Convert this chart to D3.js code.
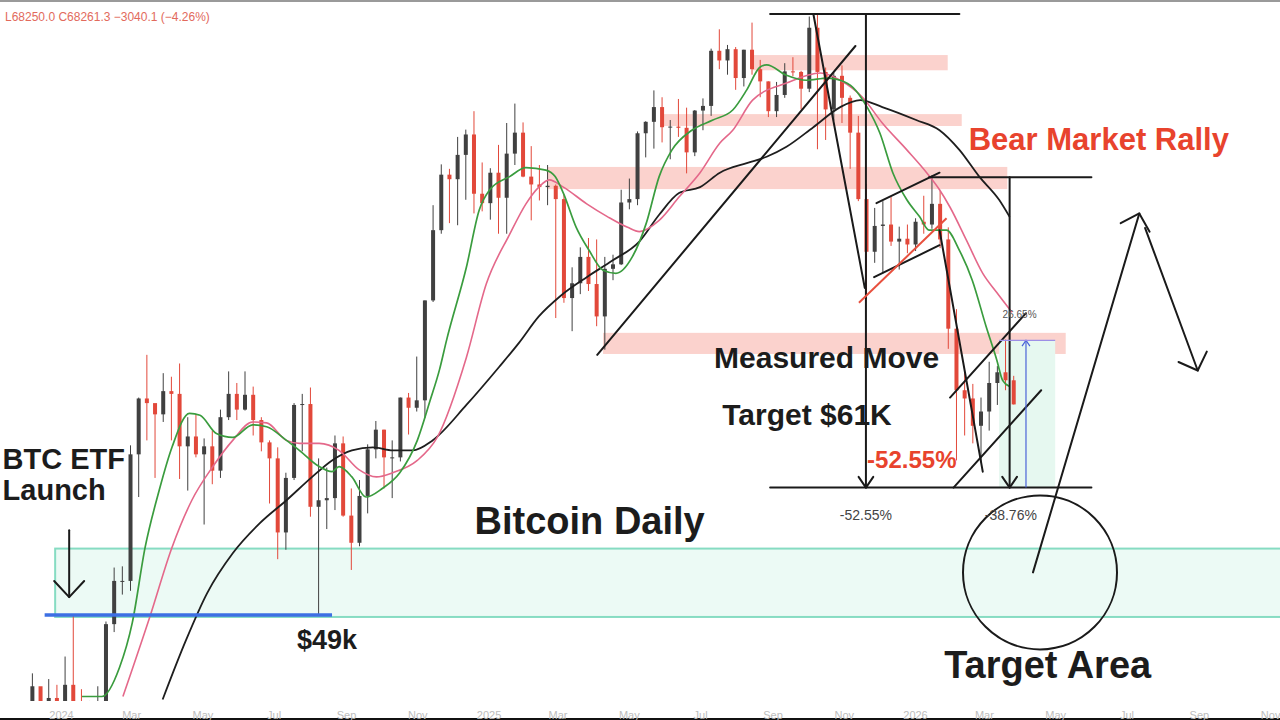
<!DOCTYPE html>
<html>
<head>
<meta charset="utf-8">
<title>Bitcoin Daily</title>
<script src="https://cdn.jsdelivr.net/npm/d3@7"></script>
<style>
  body { margin: 0; background: #fff; }
  svg { display: block; font-family: "Liberation Sans", Arial, sans-serif; }
  .axis text { fill: #bdbdbd; font-size: 11px; }
  .note { font-weight: bold; fill: #1c1c1c; }
  .etf { font-size: 29px; }
  .level { font-size: 27px; }
  .title { font-size: 38px; }
  .mm { font-size: 30px; }
  .target { font-size: 38px; }
  .rally { font-size: 31px; fill: #e8432d; }
  .drop { font-size: 24px; fill: #e8432d; }
  .pct { font-size: 14px; font-weight: normal; fill: #444; text-anchor: middle; }
  .tiny { font-size: 10px; font-weight: normal; fill: #555; }
  .quote { font-size: 12px; fill: #e26a5c; }
</style>
</head>
<body>
<svg id="chart"></svg>
<script>
// weekly BTC candles, USD thousands, weeks start on Monday
var firstWeek = "2023-12-04",
    firstOpen = 39.97;

var highs = [
  44.7, 43.4, 44.3, 43.9,                 // Dec 2023
  45.9, 49.0, 43.6, 42.8, 43.8,           // Jan 2024
  48.5, 52.8, 52.9, 64.0,                 // Feb
  69.0, 73.8, 68.1, 71.7,                 // Mar
  71.3, 72.8, 66.9, 67.2, 64.7,           // Apr
  65.5, 67.7, 71.9, 70.6,                 // May
  71.9, 70.2, 66.9, 64.5,                 // Jun
  63.8, 61.3, 68.4, 69.4, 70.1,           // Jul
  62.7, 61.8, 65.0, 64.9,                 // Aug
  59.8, 60.6, 64.1, 66.5, 65.6,           // Sep
  64.5, 69.0, 69.5, 73.6,                 // Oct
  80.4, 93.4, 99.6, 98.9,                 // Nov
  104.0, 105.2, 108.3, 99.9, 99.0,        // Dec
  102.7, 106.3, 109.6, 106.4,             // Jan 2025
  102.5, 99.5, 99.5, 96.5,                // Feb
  95.0, 84.7, 87.4, 88.7, 88.5,           // Mar
  86.1, 86.4, 95.7, 97.4,                 // Apr
  104.9, 106.6, 111.9, 110.7,             // May
  106.8, 110.4, 108.9, 108.5, 110.5,      // Jun
  119.5, 123.2, 120.2, 119.8,             // Jul
  119.3, 124.5, 117.4, 113.5,             // Aug
  113.4, 116.8, 117.9, 115.4, 125.7,      // Sep
  126.2, 116.0, 115.0, 116.4,             // Oct
  111.0, 107.5, 96.6, 93.0,               // Nov
  94.0, 94.6, 90.3, 90.6, 91.5,           // Dec
  94.8, 97.9, 95.5, 90.2,                 // Jan 2026
  79.3, 71.8, 70.5, 69.0,                 // Feb
  73.0, 72.5, 75.6, 71.4                  // Mar
];
var lows = [
  39.5, 40.2, 40.5, 41.5,
  40.7, 41.5, 40.3, 38.5, 41.9,
  42.3, 47.7, 50.6, 50.9,
  59.0, 64.5, 60.8, 66.4,
  64.5, 60.7, 59.6, 62.8, 56.5,
  60.2, 60.8, 66.6, 66.6,
  67.6, 65.0, 63.4, 58.4,
  53.5, 54.3, 60.6, 63.4, 57.2,
  49.0, 56.1, 57.8, 57.2,
  52.6, 54.6, 57.5, 62.7, 59.8,
  58.9, 62.4, 65.1, 67.5,
  66.8, 80.2, 89.3, 90.8,
  90.5, 94.2, 92.2, 92.5, 91.3,
  89.3, 89.3, 99.5, 97.6,
  91.2, 94.1, 93.4, 78.2,
  80.1, 76.6, 81.2, 81.6, 77.2,
  74.4, 83.0, 85.0, 92.8,
  93.4, 100.7, 102.1, 103.1,
  100.4, 104.0, 98.2, 100.9, 105.1,
  107.5, 115.7, 114.7, 112.0,
  112.6, 114.7, 110.7, 107.3,
  107.3, 110.6, 114.4, 108.6, 111.6,
  102.0, 103.5, 106.7, 106.3,
  98.9, 94.0, 80.6, 85.3,
  83.9, 87.6, 84.4, 86.6, 86.9,
  89.3, 90.0, 87.3, 74.5,
  62.5, 65.0, 64.2, 62.3,
  65.5, 68.2, 69.8, 68.25
];
var closes = [
  43.8, 41.4, 43.0, 42.3,
  43.9, 41.7, 41.6, 42.0, 42.6,
  48.3, 51.7, 51.7, 63.1,
  68.9, 68.4, 67.2, 69.7,
  69.4, 63.9, 64.9, 63.1, 63.9,
  61.5, 66.9, 69.4, 67.7,
  69.3, 66.6, 64.3, 62.7,
  55.8, 60.8, 68.2, 68.3, 58.1,
  58.7, 58.9, 64.2, 57.3,
  54.9, 59.1, 63.6, 65.6, 62.8,
  62.8, 69.0, 67.9, 68.7,
  80.4, 89.8, 98.0, 97.3,
  101.1, 104.4, 95.1, 93.7, 98.3,
  94.5, 101.3, 104.7, 97.7,
  96.5, 96.1, 96.3, 94.3,
  80.7, 82.6, 86.1, 82.5, 78.4,
  84.5, 85.1, 93.8, 94.3,
  104.6, 106.5, 109.0, 105.6,
  105.7, 105.5, 101.5, 108.4, 109.2,
  119.1, 117.3, 119.4, 114.1,
  119.3, 115.7, 113.5, 108.3,
  111.1, 115.3, 115.2, 112.2, 123.5,
  115.2, 108.6, 114.5, 110.6,
  104.7, 94.3, 86.8, 90.4,
  90.6, 88.2, 88.6, 87.8, 91.0,
  90.6, 93.6, 88.5, 76.9,
  69.8, 68.9, 66.0, 67.5,
  70.6, 71.8, 70.9, 68.26
];

// moving averages: [date, price]
var fastMA = [
  ["2024-01-19", 43.1], ["2024-02-05", 43.1], ["2024-02-20", 45.1], ["2024-03-02", 48.4],
  ["2024-03-13", 54.5], ["2024-03-25", 59.6], ["2024-04-05", 63.8], ["2024-04-20", 67.3],
  ["2024-04-29", 67.1], ["2024-05-13", 65.2], ["2024-05-27", 64.8], ["2024-06-13", 66.1],
  ["2024-06-25", 65.9], ["2024-07-12", 64.5], ["2024-07-23", 63.5], ["2024-08-09", 61.9],
  ["2024-08-20", 61.4], ["2024-08-26", 61.9], ["2024-09-06", 60.9], ["2024-09-18", 59.0],
  ["2024-10-02", 59.8], ["2024-10-17", 61.3], ["2024-11-01", 64.5], ["2024-11-12", 68.7],
  ["2024-11-20", 72.1], ["2024-11-26", 75.5], ["2024-12-13", 84.7], ["2024-12-24", 92.7],
  ["2025-01-02", 95.7], ["2025-01-19", 97.7], ["2025-02-02", 99.1], ["2025-02-19", 98.7],
  ["2025-02-27", 97.7], ["2025-03-06", 95.2], ["2025-03-17", 90.2], ["2025-03-28", 87.0],
  ["2025-04-09", 84.3], ["2025-04-20", 83.9], ["2025-05-04", 86.1], ["2025-05-16", 90.8],
  ["2025-05-27", 97.7], ["2025-06-07", 101.9], ["2025-06-24", 105.1], ["2025-07-12", 106.8],
  ["2025-07-29", 108.5], ["2025-08-10", 112.0], ["2025-08-21", 116.0], ["2025-08-27", 116.5],
  ["2025-09-13", 114.6], ["2025-09-30", 113.7], ["2025-10-18", 114.1], ["2025-10-29", 113.7],
  ["2025-11-09", 112.4], ["2025-11-21", 109.0], ["2025-12-02", 104.6], ["2025-12-13", 98.3],
  ["2025-12-25", 94.2], ["2026-01-05", 91.7], ["2026-01-13", 89.8], ["2026-01-28", 89.8],
  ["2026-02-08", 87.0], ["2026-02-19", 83.0], ["2026-03-03", 77.1], ["2026-03-12", 73.2],
  ["2026-03-17", 70.9], ["2026-03-23", 70.2]
];
var midMA = [
  ["2024-02-23", 43.1], ["2024-03-17", 48.85], ["2024-04-05", 54.5], ["2024-04-22", 58.7],
  ["2024-05-10", 61.9], ["2024-05-27", 64.5], ["2024-06-13", 66.4], ["2024-06-25", 66.3],
  ["2024-07-12", 64.5], ["2024-07-23", 64.2], ["2024-08-09", 64.2], ["2024-08-26", 63.5],
  ["2024-09-12", 61.6], ["2024-09-27", 60.9], ["2024-10-11", 61.3], ["2024-11-01", 62.5],
  ["2024-11-18", 64.8], ["2024-12-13", 73.5], ["2024-12-30", 82.5], ["2025-01-19", 89.2],
  ["2025-02-02", 93.6], ["2025-02-13", 96.1], ["2025-02-22", 97.2], ["2025-03-06", 96.1],
  ["2025-03-26", 93.6], ["2025-04-13", 91.7], ["2025-04-30", 90.2], ["2025-05-10", 89.6],
  ["2025-05-27", 91.2], ["2025-06-13", 94.6], ["2025-07-01", 98.3], ["2025-07-18", 103.0],
  ["2025-07-29", 105.1], ["2025-08-15", 110.2], ["2025-09-13", 113.2], ["2025-10-12", 115.0],
  ["2025-10-29", 113.7], ["2025-11-17", 110.7], ["2025-12-04", 106.3], ["2025-12-25", 101.9],
  ["2026-01-11", 98.3], ["2026-01-22", 95.7], ["2026-01-31", 93.1], ["2026-02-14", 88.4],
  ["2026-02-28", 83.9], ["2026-03-12", 81.4], ["2026-03-25", 78.9]
];
var slowMA = [
  ["2024-03-28", 42.9], ["2024-04-17", 47.1], ["2024-05-05", 50.7], ["2024-05-27", 54.0],
  ["2024-06-19", 56.6], ["2024-07-12", 58.7], ["2024-08-03", 60.9], ["2024-08-20", 62.5],
  ["2024-09-06", 63.5], ["2024-09-24", 63.8], ["2024-10-11", 63.5], ["2024-10-28", 63.5],
  ["2024-11-14", 64.5], ["2024-12-13", 68.2], ["2025-01-10", 72.4], ["2025-01-27", 75.2],
  ["2025-02-13", 78.4], ["2025-03-03", 80.9], ["2025-03-26", 83.4], ["2025-04-17", 85.6],
  ["2025-05-10", 88.2], ["2025-05-27", 92.0], ["2025-06-13", 95.2], ["2025-07-01", 96.1],
  ["2025-07-18", 98.3], ["2025-08-10", 99.8], ["2025-08-27", 100.8], ["2025-09-13", 102.4],
  ["2025-10-06", 105.6], ["2025-10-29", 109.0], ["2025-11-15", 110.2], ["2025-12-04", 109.0],
  ["2026-01-02", 106.8], ["2026-01-22", 105.1], ["2026-02-08", 101.9], ["2026-02-25", 97.7],
  ["2026-03-14", 94.2], ["2026-03-23", 91.7]
];

// shaded price zones
var resistance = [
  { from: "2025-08-15", to: "2026-01-29", hi: 118.3, lo: 115.5 },
  { from: "2025-05-29", to: "2026-02-10", hi: 107.8, lo: 105.8 },
  { from: "2025-02-20", to: "2026-03-21", hi: 99.2, lo: 95.8 },
  { from: "2025-04-09", to: "2026-05-10", hi: 76.4, lo: 73.9 }
];
var supportZone = { from: "2023-12-27", to: "2027-01-31", hi: 54.4, lo: 48.85 };
var supportLine = { from: "2023-12-18", to: "2024-08-20", price: 49 };

// measured move levels
var athPrice = 126.2, rallyHigh = 97.6, mmTarget = 59.88, bounceHigh = 75.5;

// drawn trend lines
var trendLines = [
  [["2025-04-04", 73.8], ["2025-11-11", 120.0]],
  [["2025-10-06", 126.2], ["2025-11-19", 82.0]],
  [["2025-11-29", 93.7], ["2026-01-22", 98.3]],
  [["2025-11-27", 83.4], ["2026-01-22", 87.7]],
  [["2026-01-22", 89.8], ["2026-02-28", 61.4]],
  [["2026-01-31", 69.0], ["2026-04-06", 78.8]],
  [["2026-02-03", 59.88], ["2026-04-19", 69.8]]
];
var flagSupport = [["2025-11-14", 80.1], ["2026-01-28", 91.5]];

// projected path
var projUp = [["2026-04-12", 52.4], ["2026-07-12", 92.2]];
var projDown = [["2026-07-17", 90.1], ["2026-08-31", 72.0]];
var targetCenter = ["2026-04-18", 52.4];
var etfArrow = [["2024-01-08", 56.0], ["2024-01-08", 50.4]];

var notes = [
  { text: "BTC ETF", date: "2023-11-12", price: 61.65, kind: "etf" },
  { text: "Launch", date: "2023-11-12", price: 58.7, kind: "etf" },
  { text: "$49k", date: "2024-07-21", price: 46.45, kind: "level" },
  { text: "Bitcoin Daily", date: "2024-12-20", price: 55.7, kind: "title" },
  { text: "Measured Move", date: "2025-07-13", price: 72.3, kind: "mm" },
  { text: "Target $61K", date: "2025-07-20", price: 66.1, kind: "mm" },
  { text: "-52.55%", date: "2025-11-21", price: 61.75, kind: "drop" },
  { text: "Bear Market Rally", date: "2026-02-16", price: 101.9, kind: "rally" },
  { text: "Target Area", date: "2026-01-26", price: 44.4, kind: "target" },
  { text: "-52.55%", date: "2025-11-20", price: 56.9, kind: "pct" },
  { text: "-38.76%", date: "2026-03-24", price: 56.9, kind: "pct" },
  { text: "26.65%", date: "2026-03-17", price: 78.2, kind: "tiny" }
];

// ---- drawing ----
var w = 1280, h = 720;
var parse = d3.timeParse("%Y-%m-%d");

var x = d3.scaleTime()
    .domain([parse("2024-01-01"), parse("2026-01-01")])
    .range([61, 915]);
var y = d3.scaleLog()
    .domain([49, 126.2])
    .range([615, 14]);

function pt(d) { return [x(parse(d[0])), y(d[1])]; }

var svg = d3.select("#chart").attr("width", w).attr("height", h);

svg.append("defs").append("clipPath").attr("id", "plot")
  .append("rect").attr("x", 0).attr("y", 3).attr("width", w).attr("height", 698);

// frame lines
svg.append("rect").attr("x", 0).attr("y", 0).attr("width", w).attr("height", 2).attr("fill", "#9a9a9a");
svg.append("rect").attr("x", 0).attr("y", 718).attr("width", w).attr("height", 2).attr("fill", "#111");

var plot = svg.append("g").attr("clip-path", "url(#plot)");

// support zone
plot.append("rect")
    .attr("x", x(parse(supportZone.from)))
    .attr("y", y(supportZone.hi))
    .attr("width", x(parse(supportZone.to)) - x(parse(supportZone.from)))
    .attr("height", y(supportZone.lo) - y(supportZone.hi))
    .attr("fill", "#ecfaf5")
    .attr("stroke", "#86dcc2")
    .attr("stroke-width", 2);

// resistance bands
plot.selectAll(".band").data(resistance).enter().append("rect")
    .attr("class", "band")
    .attr("x", function (d) { return x(parse(d.from)); })
    .attr("y", function (d) { return y(d.hi); })
    .attr("width", function (d) { return x(parse(d.to)) - x(parse(d.from)); })
    .attr("height", function (d) { return y(d.lo) - y(d.hi); })
    .attr("fill", "#fbd2cd");

// bounce box
plot.append("rect")
    .attr("x", x(parse("2026-03-14")))
    .attr("y", y(bounceHigh))
    .attr("width", x(parse("2026-05-01")) - x(parse("2026-03-14")))
    .attr("height", y(mmTarget) - y(bounceHigh))
    .attr("fill", "#e6f8f0");

// candles
var candles = closes.map(function (c, i) {
    return {
        t: d3.timeMonday.offset(parse(firstWeek), i),
        o: i ? closes[i - 1] : firstOpen,
        h: highs[i],
        l: lows[i],
        c: c
    };
});
var bodyW = 4;
var cg = plot.append("g").selectAll("g").data(candles).enter().append("g")
    .attr("transform", function (d) { return "translate(" + x(d3.timeHour.offset(d.t, 84)) + ",0)"; })
    .attr("fill", function (d) { return d.c >= d.o ? "#404040" : "#e2483a"; })
    .attr("stroke", function (d) { return d.c >= d.o ? "#404040" : "#e2483a"; });
cg.append("line")
    .attr("y1", function (d) { return y(d.h); })
    .attr("y2", function (d) { return y(d.l); })
    .attr("stroke-width", 1);
cg.append("rect")
    .attr("x", -bodyW / 2)
    .attr("width", bodyW)
    .attr("y", function (d) { return y(Math.max(d.o, d.c)); })
    .attr("height", function (d) { return Math.max(1, Math.abs(y(d.o) - y(d.c))); })
    .attr("stroke", "none");

// moving averages
var maLine = d3.line()
    .x(function (d) { return x(parse(d[0])); })
    .y(function (d) { return y(d[1]); })
    .curve(d3.curveMonotoneX);
[[slowMA, "#1e1e1e", 1.8], [midMA, "#e4688a", 1.6], [fastMA, "#3a9c3e", 1.7]].forEach(function (s) {
    plot.append("path").attr("d", maLine(s[0]))
        .attr("fill", "none").attr("stroke", s[1]).attr("stroke-width", s[2]);
});

// annotations
var ann = plot.append("g").attr("fill", "none").attr("stroke", "#1a1a1a").attr("stroke-width", 2)
    .attr("stroke-linecap", "round").attr("stroke-linejoin", "round");

function seg(g, a, b) {
    g.append("path").attr("d", "M" + pt(a) + "L" + pt(b));
}
function head(g, a, b, len, spread) {
    var p = pt(a), q = pt(b);
    var ang = Math.atan2(q[1] - p[1], q[0] - p[0]);
    var l = [q[0] - len * Math.cos(ang - spread), q[1] - len * Math.sin(ang - spread)];
    var r = [q[0] - len * Math.cos(ang + spread), q[1] - len * Math.sin(ang + spread)];
    g.append("path").attr("d", "M" + l + "L" + q + "L" + r);
}

// support line
plot.append("path")
    .attr("d", "M" + pt([supportLine.from, supportLine.price]) + "L" + pt([supportLine.to, supportLine.price]))
    .attr("stroke", "#3d6fe3").attr("stroke-width", 3.5);

// measured move frame
seg(ann, ["2025-08-30", athPrice], ["2026-02-08", athPrice]);
seg(ann, ["2025-08-30", mmTarget], ["2026-06-01", mmTarget]);
seg(ann, ["2026-01-13", rallyHigh], ["2026-06-01", rallyHigh]);
seg(ann, ["2025-11-20", athPrice], ["2025-11-20", mmTarget]);
head(ann, ["2025-11-20", athPrice], ["2025-11-20", mmTarget], 13, 0.6);
seg(ann, ["2026-03-23", rallyHigh], ["2026-03-23", mmTarget]);
head(ann, ["2026-03-23", rallyHigh], ["2026-03-23", mmTarget], 13, 0.6);

trendLines.forEach(function (l) { seg(ann, l[0], l[1]); });

plot.append("path").attr("d", "M" + pt(flagSupport[0]) + "L" + pt(flagSupport[1]))
    .attr("stroke", "#e8503e").attr("stroke-width", 2);

// bounce measure
var blue = plot.append("g").attr("fill", "none").attr("stroke", "#4a63d8").attr("stroke-width", 1.2);
seg(blue, ["2026-04-06", mmTarget], ["2026-04-06", bounceHigh]);
head(blue, ["2026-04-06", mmTarget], ["2026-04-06", bounceHigh], 7, 0.6);
blue.append("path").attr("stroke", "#9d8fe6")
    .attr("d", "M" + pt(["2026-03-14", bounceHigh]) + "L" + pt(["2026-05-01", bounceHigh]));

// projection and target circle
seg(ann, projUp[0], projUp[1]);
head(ann, projUp[0], projUp[1], 21, 0.8);
seg(ann, projDown[0], projDown[1]);
head(ann, projDown[0], projDown[1], 21, 0.8);
ann.append("circle")
    .attr("cx", pt(targetCenter)[0]).attr("cy", pt(targetCenter)[1]).attr("r", 77);

seg(ann, etfArrow[0], etfArrow[1]);
head(ann, etfArrow[0], etfArrow[1], 22, 0.75);

// text notes
svg.append("g").selectAll("text").data(notes).enter().append("text")
    .attr("class", function (d) { return "note " + d.kind; })
    .attr("x", function (d) { return x(parse(d.date)); })
    .attr("y", function (d) { return y(d.price); })
    .text(function (d) { return d.text; });

svg.append("text").attr("class", "quote").attr("x", 5).attr("y", 21)
    .text("L68250.0 C68261.3 \u22123040.1 (\u22124.26%)");

// time axis
var fmtYear = d3.timeFormat("%Y"), fmtMonth = d3.timeFormat("%b");
var xAxis = d3.axisBottom(x)
    .tickValues(d3.timeMonth.every(2).range(parse("2024-01-01"), parse("2026-12-01")))
    .tickSize(0)
    .tickFormat(function (d) { return d.getMonth() === 0 ? fmtYear(d) : fmtMonth(d); });
svg.append("g").attr("class", "axis")
    .attr("transform", "translate(0,708)")
    .call(xAxis)
    .call(function (g) { g.select(".domain").remove(); });
</script>
</body>
</html>
